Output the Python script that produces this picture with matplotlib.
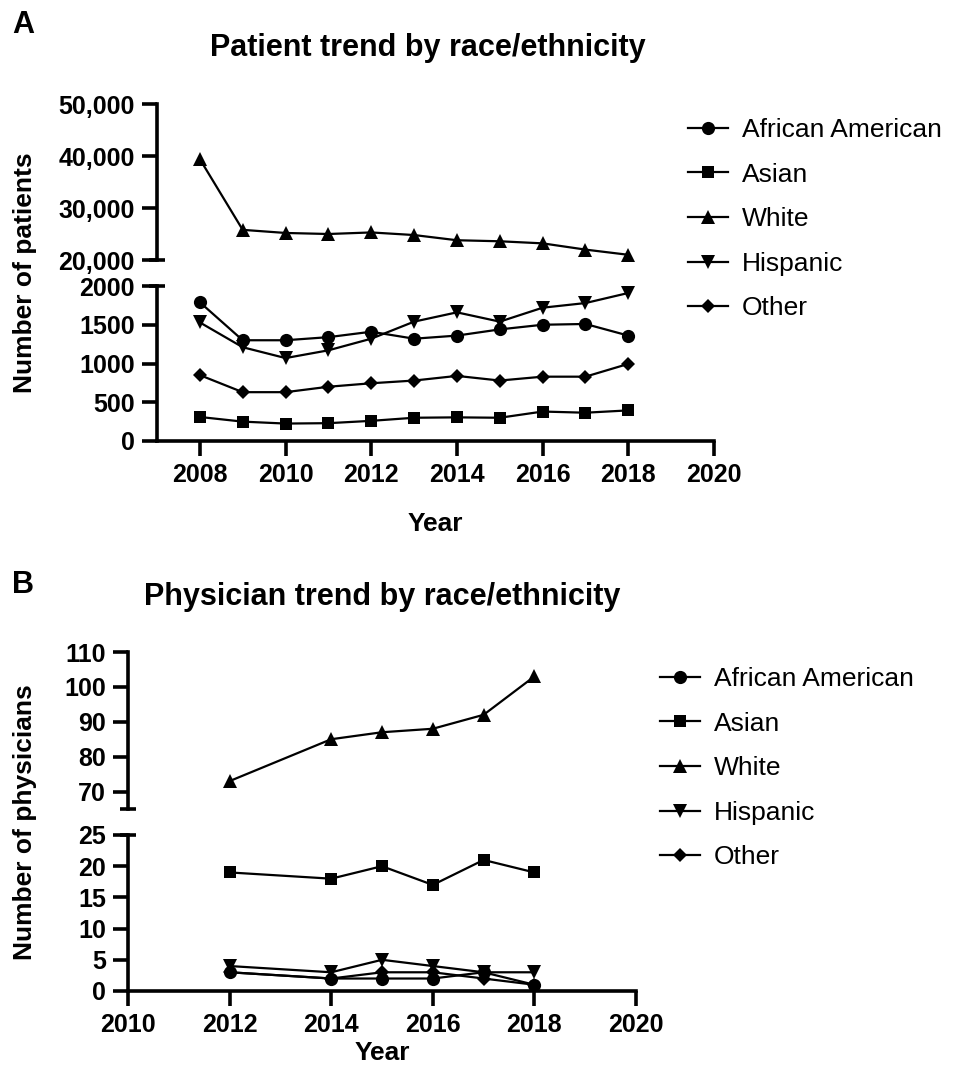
import matplotlib
matplotlib.use("Agg")
import matplotlib.pyplot as plt
from matplotlib.ticker import FuncFormatter
import numpy as np

W, H = 960, 1077
DPI = 100

plt.rcParams['font.family'] = ['Liberation Sans', 'DejaVu Sans']

# ---------------- data ----------------
series = ["African American", "Asian", "White", "Hispanic", "Other"]
markers = ["o", "s", "^", "v", "D"]
msizes = [9.5, 8.5, 10, 10, 7]

years_a = [2008, 2009, 2010, 2011, 2012, 2013, 2014, 2015, 2016, 2017, 2018]
pat_african_american = [1790, 1300, 1300, 1340, 1410, 1320, 1360, 1440, 1500, 1510, 1360]
pat_asian = [310, 250, 225, 230, 260, 300, 305, 300, 380, 365, 395]
pat_white = [39400, 25800, 25200, 25000, 25300, 24800, 23800, 23600, 23200, 22000, 21000]
pat_hispanic = [1530, 1210, 1070, 1170, 1320, 1540, 1660, 1540, 1720, 1780, 1910]
pat_other = [850, 630, 630, 700, 745, 780, 840, 780, 830, 830, 995]

years_b = [2012, 2014, 2015, 2016, 2017, 2018]
phy_african_american = [3, 2, 2, 2, 3, 1]
phy_asian = [19, 18, 20, 17, 21, 19]
phy_white = [73, 85, 87, 88, 92, 103]
phy_hispanic = [4, 3, 5, 4, 3, 3]
phy_other = [3, 2, 3, 3, 2, 1]

pat = [pat_african_american, pat_asian, pat_white, pat_hispanic, pat_other]
phy = [phy_african_american, phy_asian, phy_white, phy_hispanic, phy_other]

xticks_a = [2008, 2010, 2012, 2014, 2016, 2018, 2020]
yticks_a_top = [20000, 30000, 40000, 50000]
yticks_a_bot = [0, 500, 1000, 1500, 2000]
xticks_b = [2010, 2012, 2014, 2016, 2018, 2020]
yticks_b_top = [70, 80, 90, 100, 110]
yticks_b_bot = [0, 5, 10, 15, 20, 25]

# ---------------- style ----------------
SPW = 2.6
TICKFS = 18
LABFS = 19
LEGFS = 19
LW = 1.6
TITLEFS = 22

fig = plt.figure(figsize=(W / DPI, H / DPI), dpi=DPI)


def rect(l, t, r, b):
    return [l / W, 1 - b / H, (r - l) / W, (b - t) / H]


def style(ax, bottom=True):
    for s in ["top", "right"]:
        ax.spines[s].set_visible(False)
    ax.spines["left"].set_linewidth(SPW)
    ax.spines["bottom"].set_linewidth(SPW)
    ax.spines["bottom"].set_visible(bottom)
    ax.tick_params(axis="both", width=SPW, length=11, labelsize=TICKFS, pad=5)
    for lab in ax.get_xticklabels() + ax.get_yticklabels():
        lab.set_fontweight("bold")
    if not bottom:
        ax.tick_params(axis="x", bottom=False, labelbottom=False)
    ax.set_facecolor("none")


def brk(ax, y, half_px, width_px):
    d = half_px / width_px
    ax.plot([-d, d], [y, y], transform=ax.transAxes, color="black",
            lw=SPW, clip_on=False, solid_capstyle="butt")


def plot_all(ax, xs, data, lo, hi):
    hs = []
    for vals, m, ms, name in zip(data, markers, msizes, series):
        v = np.asarray(vals, dtype=float)
        v = np.where((v >= lo) & (v <= hi), v, np.nan)
        h, = ax.plot(xs, v, color="black", lw=LW, marker=m, ms=ms,
                     markeredgewidth=0, label=name, clip_on=False, zorder=3)
        hs.append(h)
    return hs


# ---------------- Panel A ----------------
axA1 = fig.add_axes(rect(157, 104, 714, 260))
axA2 = fig.add_axes(rect(157, 286, 714, 441))
plot_all(axA1, years_a, pat, 20000, 50000)
hA = plot_all(axA2, years_a, pat, 0, 2000)
for ax in (axA1, axA2):
    ax.set_xlim(2007, 2020)
    ax.set_xticks(xticks_a)
axA1.set_ylim(20000, 50000)
axA1.set_yticks(yticks_a_top)
axA1.yaxis.set_major_formatter(FuncFormatter(lambda v, p: f"{int(v):,}"))
axA2.set_ylim(0, 2000)
axA2.set_yticks(yticks_a_bot)
style(axA1, bottom=False)
style(axA2, bottom=True)
brk(axA1, 0, 8, 557)
brk(axA2, 1, 8, 557)
axA2.set_xlabel("Year", fontsize=LABFS, fontweight="bold", labelpad=18)
fig.text(25 / W, 1 - 273 / H, "Number of patients", rotation=90, ha="center",
         va="center", fontsize=LABFS, fontweight="bold")
fig.text(428 / W, 1 - 48 / H, "Patient trend by race/ethnicity", ha="center",
         va="center", fontsize=TITLEFS, fontweight="bold")
fig.text(12 / W, 1 - 25 / H, "A", ha="left", va="center", fontsize=22,
         fontweight="bold")
fig.legend(handles=hA, loc="upper left", bbox_to_anchor=(688 / W, 1 - 118 / H),
           frameon=False, fontsize=LEGFS, handlelength=1.5, handletextpad=0.55,
           labelspacing=0.78, borderpad=0, borderaxespad=0)

# ---------------- Panel B ----------------
axB1 = fig.add_axes(rect(128, 652, 636, 809))
axB2 = fig.add_axes(rect(128, 835, 636, 991))
plot_all(axB1, years_b, phy, 65, 110)
hB = plot_all(axB2, years_b, phy, 0, 25)
for ax in (axB1, axB2):
    ax.set_xlim(2010, 2020)
    ax.set_xticks(xticks_b)
axB1.set_ylim(65, 110)
axB1.set_yticks(yticks_b_top)
axB2.set_ylim(0, 25)
axB2.set_yticks(yticks_b_bot)
style(axB1, bottom=False)
style(axB2, bottom=True)
brk(axB1, 0, 8, 508)
brk(axB2, 1, 8, 508)
axB2.set_xlabel("Year", fontsize=LABFS, fontweight="bold", labelpad=3)
fig.text(25 / W, 1 - 822 / H, "Number of physicians", rotation=90, ha="center",
         va="center", fontsize=LABFS, fontweight="bold")
fig.text(382 / W, 1 - 597 / H, "Physician trend by race/ethnicity", ha="center",
         va="center", fontsize=TITLEFS, fontweight="bold")
fig.text(12 / W, 1 - 585 / H, "B", ha="left", va="center", fontsize=22,
         fontweight="bold")
fig.legend(handles=hB, loc="upper left", bbox_to_anchor=(660 / W, 1 - 667 / H),
           frameon=False, fontsize=LEGFS, handlelength=1.5, handletextpad=0.55,
           labelspacing=0.78, borderpad=0, borderaxespad=0)

fig.savefig("out.png", dpi=DPI)
